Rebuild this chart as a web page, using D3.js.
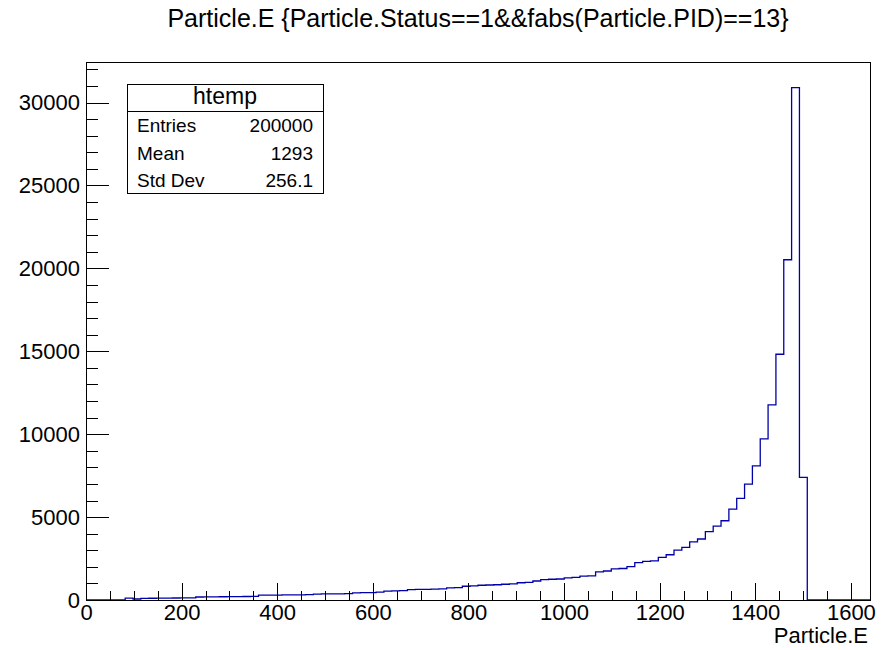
<!DOCTYPE html>
<html>
<head>
<meta charset="utf-8">
<script src="https://cdn.jsdelivr.net/npm/d3@7"></script>
<style>
  body { margin: 0; background: #fff; }
  svg { display: block; font-family: "Liberation Sans", Arial, Helvetica, sans-serif; }
  .axis text { fill: #000; }
  .axis line { stroke: #000; }
</style>
</head>
<body>
<svg id="chart" width="887" height="650"></svg>
<script>
// histogram htemp: 100 bins over [0, 1640]
const xMin = 0;
const xMax = 1640;
const binCounts = [
    0, 0, 0, 0, 0, 110, 60, 100, 105, 110,
    115, 120, 125, 130, 180, 185, 190, 195, 200, 205,
    210, 215, 290, 295, 300, 305, 310, 315, 320, 360,
    365, 370, 375, 380, 430, 440, 450, 470, 540, 550,
    560, 620, 635, 645, 655, 665, 735, 750, 830, 850,
    890, 905, 920, 950, 970, 1040, 1060, 1145, 1230, 1250,
    1265, 1340, 1360, 1440, 1460, 1700, 1750, 1880, 1900, 2010,
    2250, 2330, 2360, 2570, 2730, 3010, 3170, 3510, 3680, 4120,
    4460, 4780, 5480, 6130, 6990, 8090, 9720, 11770, 14820, 20520,
    30900, 7390, 0, 0, 0, 0, 0, 0, 0, 0
];
const xTickValues = [0, 200, 400, 600, 800, 1000, 1200, 1400, 1600];
const yTickValues = [0, 5000, 10000, 15000, 20000, 25000, 30000];

const titleText = 'Particle.E {Particle.Status==1&&fabs(Particle.PID)==13}';
const xTitle = 'Particle.E';
const statsName = 'htemp';
const statLabels = ['Entries', 'Mean', 'Std Dev'];
const statValues = ['200000', '1293', '256.1'];

const frame = { left: 86, right: 870, top: 62, bottom: 600 };
const svg = d3.select('#chart');

const binWidth = (xMax - xMin) / binCounts.length;
const yMax = d3.max(binCounts) * 1.05;

const x = d3.scaleLinear().domain([xMin, xMax]).range([frame.left, frame.right]);
const y = d3.scaleLinear().domain([0, yMax]).range([frame.bottom, frame.top]);

// histogram outline
const pts = binCounts.map((v, i) => ({ e: xMin + i * binWidth, v }));
pts.push({ e: xMax, v: binCounts[binCounts.length - 1] });

const line = d3.line()
    .x((d) => x(d.e))
    .y((d) => y(d.v))
    .curve(d3.curveStepAfter);

svg.append('path')
    .datum(pts)
    .attr('d', line)
    .attr('fill', 'none')
    .attr('stroke', '#0000a8')
    .attr('stroke-width', 1.3);

// axes, ticks pointing into the frame
const gx = svg.append('g')
    .attr('class', 'axis')
    .attr('transform', `translate(0,${frame.bottom})`);

gx.append('g')
    .call(d3.axisBottom(x)
        .tickValues(d3.range(0, 1641, 50).filter((v) => v % 200 !== 0))
        .tickSize(-9)
        .tickFormat(''))
    .call((g) => g.select('.domain').remove());

gx.append('g')
    .call(d3.axisBottom(x)
        .tickValues(xTickValues)
        .tickSize(-17)
        .tickPadding(4)
        .tickFormat(d3.format('d')))
    .call((g) => g.select('.domain').remove())
    .selectAll('text')
    .attr('font-size', 22);

const gy = svg.append('g')
    .attr('class', 'axis')
    .attr('transform', `translate(${frame.left},0)`);

gy.append('g')
    .call(d3.axisLeft(y)
        .tickValues(d3.range(0, 32001, 1000).filter((v) => v % 5000 !== 0))
        .tickSize(-12)
        .tickFormat(''))
    .call((g) => g.select('.domain').remove());

gy.append('g')
    .call(d3.axisLeft(y)
        .tickValues(yTickValues)
        .tickSize(-23)
        .tickPadding(6)
        .tickFormat(d3.format('d')))
    .call((g) => g.select('.domain').remove())
    .selectAll('text')
    .attr('font-size', 22);

svg.selectAll('.axis line').attr('shape-rendering', 'crispEdges');

// frame
svg.append('rect')
    .attr('x', frame.left + 0.5)
    .attr('y', frame.top + 0.5)
    .attr('width', frame.right - frame.left)
    .attr('height', frame.bottom - frame.top)
    .attr('fill', 'none')
    .attr('stroke', '#000')
    .attr('stroke-width', 1);

// titles
svg.append('text')
    .attr('x', 478)
    .attr('y', 27)
    .attr('text-anchor', 'middle')
    .attr('font-size', 25)
    .text(titleText);

svg.append('text')
    .attr('x', frame.right - 2)
    .attr('y', 643)
    .attr('text-anchor', 'end')
    .attr('font-size', 22)
    .text(xTitle);

// stats box
const box = { x: 127, y: 84, w: 196, h: 109, head: 27 };
const stats = svg.append('g');

stats.append('rect')
    .attr('x', box.x + 0.5)
    .attr('y', box.y + 0.5)
    .attr('width', box.w)
    .attr('height', box.h)
    .attr('fill', '#fff')
    .attr('stroke', '#000');

stats.append('line')
    .attr('x1', box.x)
    .attr('x2', box.x + box.w)
    .attr('y1', box.y + box.head + 0.5)
    .attr('y2', box.y + box.head + 0.5)
    .attr('stroke', '#000');

stats.append('text')
    .attr('x', box.x + box.w / 2)
    .attr('y', 104)
    .attr('text-anchor', 'middle')
    .attr('font-size', 23)
    .text(statsName);

statLabels.forEach((lab, i) => {
    const by = 132 + i * 27.5;
    stats.append('text')
        .attr('x', 137)
        .attr('y', by)
        .attr('font-size', 19)
        .text(lab);
    stats.append('text')
        .attr('x', 313)
        .attr('y', by)
        .attr('text-anchor', 'end')
        .attr('font-size', 19)
        .text(statValues[i]);
});
</script>
</body>
</html>
